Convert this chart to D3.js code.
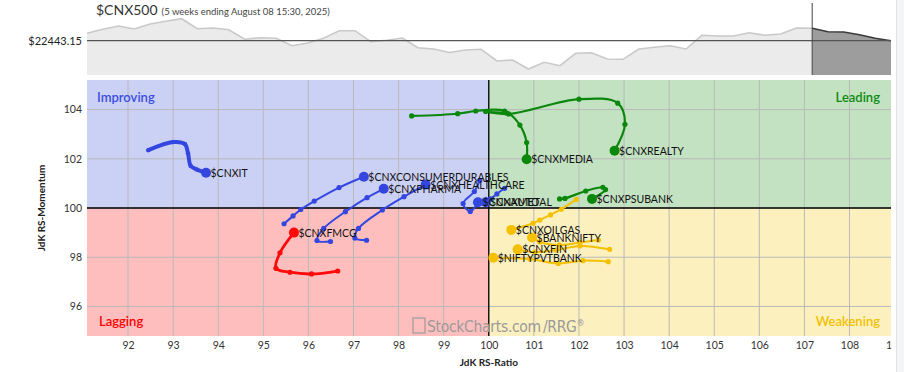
<!DOCTYPE html>
<html><head><meta charset="utf-8">
<script src="https://cdn.jsdelivr.net/npm/d3@7"></script>
<style>
body{margin:0;background:#fff;}
svg{display:block;font-family:Lato,"Open Sans",sans-serif;}
</style></head>
<body><svg id="c" width="904" height="372"></svg>
<script>
// ---------- DATA ----------
const benchName = "$CNX500";
const benchSub = "(5 weeks ending August 08 15:30, 2025)";
const benchLast = 22443.15;
const benchPrices = [23180,23580,23910,23610,24110,24380,24640,23640,23710,23540,22580,22740,22680,21940,22210,22680,23440,23440,22340,22480,22710,21740,21610,21260,21510,21580,20410,20510,19610,20280,19940,21180,21240,20610,20580,21610,21780,21940,21610,22980,22910,22910,23240,22980,23110,23710,23690,23340,23310,23040,22680,22443];
const tailWeeks = 5;

const xTicks = [92,93,94,95,96,97,98,99,100,101,102,103,104,105,106,107,108,109];
const yTicks = [96,98,100,102,104];
const quadrantNames = ["Improving","Leading","Lagging","Weakening"];

const seriesNames = ["$CNXIT","$CNXCONSUMERDURABLES","$CNXPHARMA","$CNXHEALTHCARE","$CNXAUTO","$CNXMETAL","$CNXFMCG","$CNXMEDIA","$CNXREALTY","$CNXPSUBANK","$CNXOILGAS","$BANKNIFTY","$CNXFIN","$NIFTYPVTBANK"];

const itRatio = [92.45,93.00,93.26,93.33,93.39,93.52,93.73];
const itMom   = [102.35,102.68,102.60,102.22,101.71,101.57,101.43];
const cdRatio = [95.46,95.66,95.83,96.13,96.68,97.23];
const cdMom   = [99.36,99.68,99.94,100.28,100.83,101.27];
const phRatio = [96.49,96.19,96.34,96.82,97.30,97.67];
const phMom   = [98.64,98.68,99.17,99.85,100.42,100.78];
const hcRatio = [97.29,97.03,97.11,97.64,98.12,98.60];
const hcMom   = [98.69,98.78,99.17,99.92,100.46,100.95];
const autoRatio = [99.80,99.68,99.43,99.59,99.76];
const autoMom   = [101.12,100.67,100.18,99.86,100.23];
const metalRatio = [100.35,100.18,100.04,99.93];
const metalMom   = [100.80,100.57,100.37,100.23];
const fmcgRatio = [96.65,96.07,95.59,95.28,95.37,95.68];
const fmcgMom   = [97.44,97.32,97.39,97.55,98.18,99.00];
const mediaRatio = [98.29,99.31,99.71,100.35,100.69,100.84,100.84];
const mediaMom   = [103.74,103.83,103.94,103.94,103.37,102.66,101.98];
const realtyRatio = [100.40,99.93,100.44,102.00,102.86,103.02,102.79];
const realtyMom   = [103.86,103.92,103.82,104.42,104.26,103.40,102.33];
const psuRatio = [101.57,101.69,102.15,102.53,102.59,102.29];
const psuMom   = [100.37,100.39,100.69,100.84,100.75,100.37];
const oilRatio = [101.94,101.61,101.37,101.13,100.98,100.50];
const oilMom   = [100.35,99.95,99.72,99.51,99.38,99.11];
const bnRatio = [102.43,102.02,101.57,101.13,100.96];
const bnMom   = [98.70,98.60,98.50,98.62,98.80];
const finRatio = [102.68,102.02,101.49,101.02,100.64];
const finMom   = [98.32,98.46,98.29,98.21,98.32];
const pvtRatio = [102.65,102.09,101.54,100.91,100.10];
const pvtMom   = [97.82,97.86,97.75,97.93,97.98];

const seriesRatio = [itRatio,cdRatio,phRatio,hcRatio,autoRatio,metalRatio,fmcgRatio,mediaRatio,realtyRatio,psuRatio,oilRatio,bnRatio,finRatio,pvtRatio];
const seriesMom = [itMom,cdMom,phMom,hcMom,autoMom,metalMom,fmcgMom,mediaMom,realtyMom,psuMom,oilMom,bnMom,finMom,pvtMom];

// ---------- STYLE ----------
const BLUE="#3346e0", GREEN="#0b870b", RED="#ff0a0a", YELLOW="#f5c000";
const seriesColor = [BLUE,BLUE,BLUE,BLUE,BLUE,BLUE,RED,GREEN,GREEN,GREEN,YELLOW,YELLOW,YELLOW,YELLOW];
const seriesWidth = [4,2,2,2,2,2,2.8,2.2,2.2,2.2,2,2,2,2];
const quadFill = {Improving:"#cbd0f5",Leading:"#c2e2c2",Lagging:"#ffbebe",Weakening:"#fcf0bf"};
const quadText = {Improving:"#3a4fe0",Leading:"#0f8a0f",Lagging:"#ff0000",Weakening:"#f2c000"};

const svg = d3.select("#c");
const L=87, R=891, T=80, B=336;

// ---------- TOP PANEL ----------
const pT=3, pB=75;
const px = d3.scaleLinear().domain([0, benchPrices.length-1]).range([L,R]);
const py = d3.scaleLinear().domain([19010, 26210]).range([pB,pT]);
const split = benchPrices.length-1-tailWeeks;
const pts = benchPrices.map((p,i)=>[i,p]);
const area = d3.area().x(d=>px(d[0])).y0(pB).y1(d=>py(d[1]));
const line = d3.line().x(d=>px(d[0])).y(d=>py(d[1]));
svg.append("path").attr("d",area(pts.slice(0,split+1))).attr("fill","#ebebeb");
svg.append("path").attr("d",line(pts.slice(0,split+1))).attr("fill","none").attr("stroke","#c9c9c9").attr("stroke-width",1.6);
svg.append("path").attr("d",area(pts.slice(split))).attr("fill","#9d9d9d");
svg.append("path").attr("d",line(pts.slice(split))).attr("fill","none").attr("stroke","#3a3a3a").attr("stroke-width",1.6);
svg.append("line").attr("x1",L).attr("x2",R).attr("y1",py(benchLast)).attr("y2",py(benchLast)).attr("stroke","#555").attr("stroke-width",1.3);
svg.append("line").attr("x1",px(split)).attr("x2",px(split)).attr("y1",pT).attr("y2",pB).attr("stroke","#444").attr("stroke-width",1);
svg.append("text").attr("x",82).attr("y",py(benchLast)+4).attr("text-anchor","end").attr("font-size",11).attr("fill","#222").text("$"+benchLast.toFixed(2));
const title = svg.append("text").attr("x",96).attr("y",15);
title.append("tspan").attr("font-size",14).attr("fill","#333").text(benchName);
title.append("tspan").attr("font-size",9.5).attr("fill","#444").attr("dx",4).text(benchSub);

// ---------- RRG ----------
const x = d3.scaleLinear().domain([91.09,108.92]).range([L,R]);
const y = d3.scaleLinear().domain([94.8,105.2]).range([B,T]);
const cx = x(100), cy = y(100);
const quads = [
  {n:"Improving",x0:L,x1:cx,y0:T,y1:cy},
  {n:"Leading",x0:cx,x1:R,y0:T,y1:cy},
  {n:"Lagging",x0:L,x1:cx,y0:cy,y1:B},
  {n:"Weakening",x0:cx,x1:R,y0:cy,y1:B}];
svg.append("g").selectAll("rect").data(quads).join("rect")
  .attr("x",d=>d.x0).attr("y",d=>d.y0).attr("width",d=>d.x1-d.x0).attr("height",d=>d.y1-d.y0)
  .attr("fill",d=>quadFill[d.n]);

// grid
const grid = svg.append("g").attr("stroke","#b9b9b9").attr("stroke-width",1);
grid.selectAll("line.v").data(xTicks.filter(t=>x(t)<R)).join("line").attr("class","v")
  .attr("x1",d=>x(d)).attr("x2",d=>x(d)).attr("y1",T).attr("y2",B);
grid.selectAll("line.h").data(yTicks).join("line").attr("class","h")
  .attr("y1",d=>y(d)).attr("y2",d=>y(d)).attr("x1",L).attr("x2",R);
svg.append("line").attr("x1",cx).attr("x2",cx).attr("y1",T).attr("y2",B).attr("stroke","#000").attr("stroke-width",1.3);
svg.append("line").attr("x1",L).attr("x2",R).attr("y1",cy).attr("y2",cy).attr("stroke","#000").attr("stroke-width",1.3);

// quadrant labels
const ql = [
 {n:"Improving",x:97,y:102,a:"start"},
 {n:"Leading",x:880,y:102,a:"end"},
 {n:"Lagging",x:99,y:326,a:"start"},
 {n:"Weakening",x:880,y:326,a:"end"}];
svg.append("g").selectAll("text").data(ql).join("text")
  .attr("x",d=>d.x).attr("y",d=>d.y).attr("text-anchor",d=>d.a)
  .attr("font-size",13).attr("font-weight",600).attr("fill",d=>quadText[d.n]).text(d=>d.n);

// watermark
const wm = svg.append("g").attr("fill","#9a9a9a");
wm.append("rect").attr("x",413).attr("y",318).attr("width",12).attr("height",15).attr("fill","none").attr("stroke","#9a9a9a").attr("stroke-width",1.2);
wm.append("text").attr("x",427).attr("y",332).attr("font-size",15.5).attr("font-family","'Liberation Sans Narrow','DejaVu Sans Condensed',sans-serif").attr("letter-spacing",-0.3)
  .text("StockCharts.com").append("tspan").attr("dx",2).text("/RRG").append("tspan").attr("font-size",9).attr("dy",-6).text("®");

// axes
svg.append("defs").append("clipPath").attr("id","axclip").append("rect").attr("x",0).attr("y",0).attr("width",891.5).attr("height",372);
const xAxis = d3.axisBottom(x).tickValues(xTicks).tickSize(0).tickPadding(0).tickFormat(d3.format("d"));
const gx = svg.append("g").attr("clip-path","url(#axclip)").append("g").attr("transform",`translate(0,${342})`).call(xAxis);
gx.select(".domain").remove();
gx.selectAll("text").attr("font-size",10.5).attr("fill","#333").attr("font-family","Lato,sans-serif");
const yAxis = d3.axisLeft(y).tickValues(yTicks).tickSize(0).tickPadding(0).tickFormat(d3.format("d"));
const gy = svg.append("g").attr("transform",`translate(${82},0)`).call(yAxis);
gy.select(".domain").remove();
gy.selectAll("text").attr("font-size",10.5).attr("fill","#333").attr("font-family","Lato,sans-serif");

svg.append("text").attr("x",cx).attr("y",366).attr("text-anchor","middle").attr("font-size",10).attr("font-weight",700).attr("fill","#222").text("JdK RS-Ratio");
svg.append("text").attr("transform",`translate(45,${cy}) rotate(-90)`).attr("text-anchor","middle").attr("font-size",10).attr("font-weight",700).attr("fill","#222").text("JdK RS-Momentum");

// tails
const tailLine = d3.line().x(d=>x(d[0])).y(d=>y(d[1])).curve(d3.curveCatmullRom.alpha(0.5));
const tails = svg.append("g");
seriesNames.forEach((name,i)=>{
  const data = seriesRatio[i].map((r,k)=>[r,seriesMom[i][k]]);
  const g = tails.append("g");
  g.append("path").attr("d",tailLine(data)).attr("fill","none").attr("stroke",seriesColor[i]).attr("stroke-width",seriesWidth[i]).attr("stroke-linejoin","round").attr("stroke-linecap","round");
  g.selectAll("circle.s").data(data.slice(0,-1)).join("circle").attr("class","s")
    .attr("cx",d=>x(d[0])).attr("cy",d=>y(d[1])).attr("r",seriesWidth[i]>3?2.2:2.6).attr("fill",seriesColor[i]);
  const e = data[data.length-1];
  g.append("circle").attr("cx",x(e[0])).attr("cy",y(e[1])).attr("r",5).attr("fill",seriesColor[i]);
});
const labels = svg.append("g");
seriesNames.forEach((name,i)=>{
  const e = [seriesRatio[i][seriesRatio[i].length-1], seriesMom[i][seriesMom[i].length-1]];
  labels.append("text").attr("x",x(e[0])+4.5).attr("y",y(e[1])+4).attr("font-size",10.5).attr("fill","#111").text(name);
});

// right side panel
svg.append("rect").attr("x",896).attr("y",0).attr("width",8).attr("height",372).attr("fill","#f4f5f7");
svg.append("line").attr("x1",896.5).attr("x2",896.5).attr("y1",0).attr("y2",372).attr("stroke","#e2e4e8");
</script></body></html>
